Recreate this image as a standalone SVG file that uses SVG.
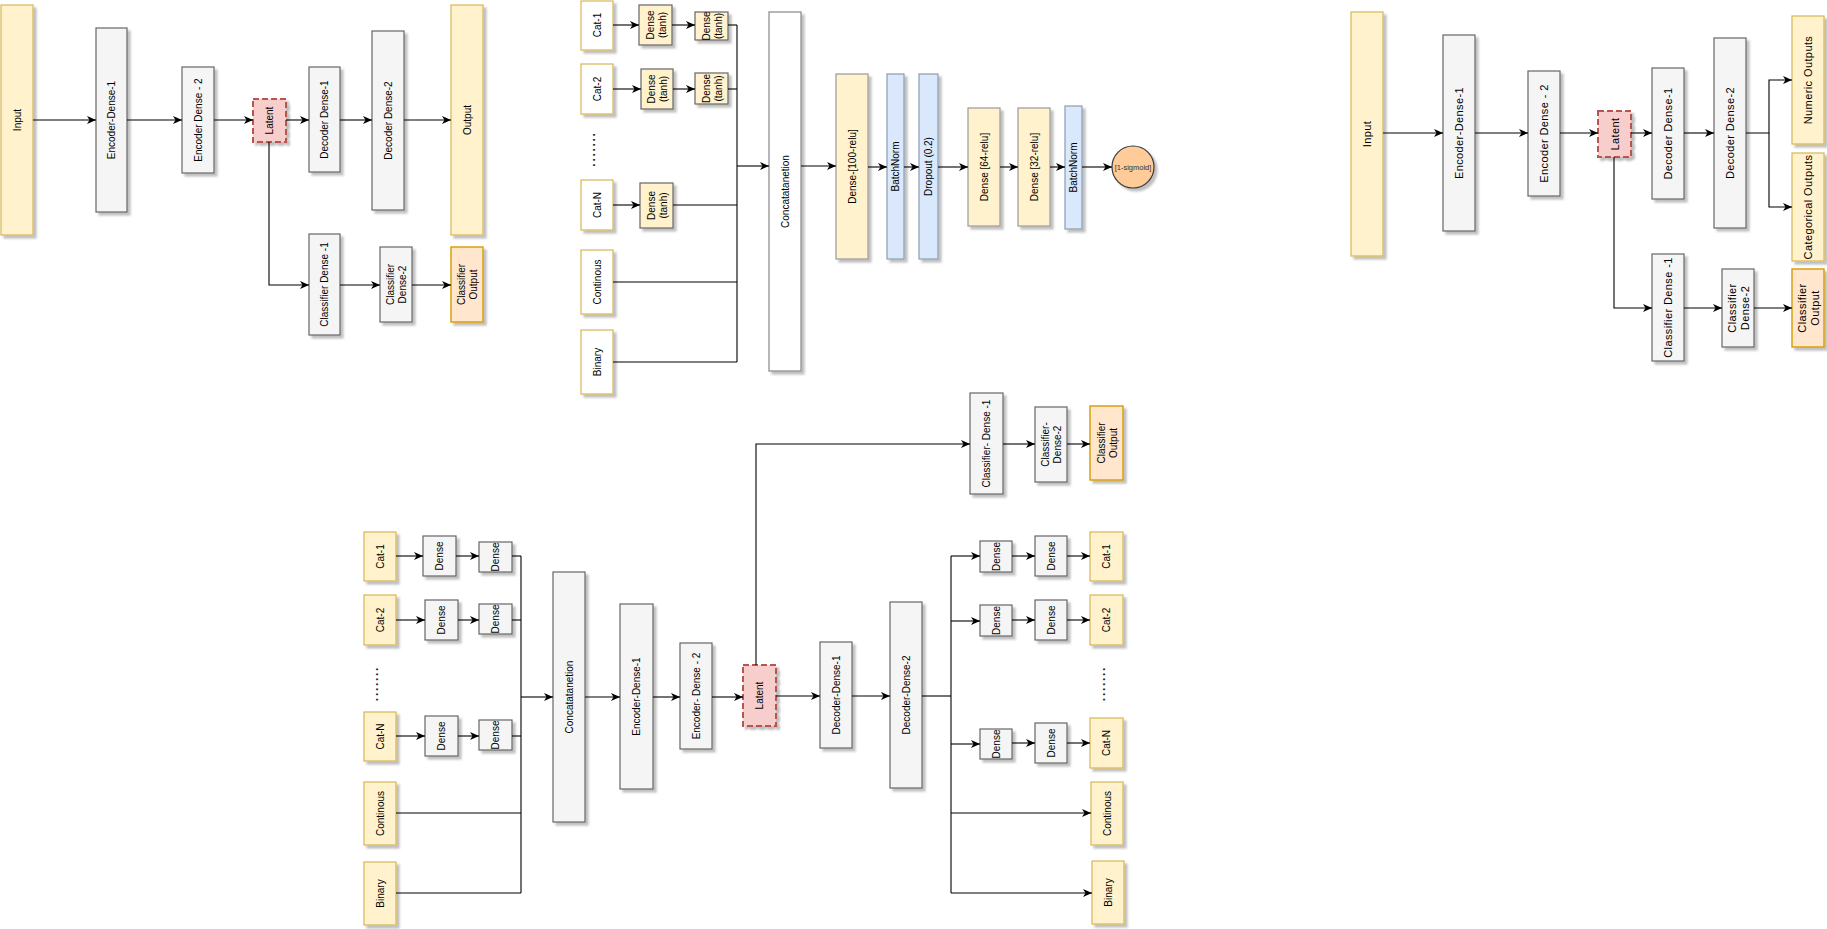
<svg xmlns="http://www.w3.org/2000/svg" width="1827" height="929" viewBox="0 0 1827 929">
<defs>
<filter id="sh" x="-20%" y="-20%" width="150%" height="150%">
<feDropShadow dx="3" dy="3" stdDeviation="1" flood-color="#000" flood-opacity="0.25"/>
</filter>
<marker id="ar" markerWidth="10" markerHeight="10" refX="9" refY="4" orient="auto" markerUnits="userSpaceOnUse">
<path d="M0,0 L9,4 L0,8 L2.5,4 z" fill="#000"/>
</marker>
</defs>
<style>
rect,circle{filter:url(#sh);}
.y{fill:#fff2cc;stroke:#d6b656;stroke-width:1.2;}
.yw{fill:#ffffff;stroke:#d6b656;stroke-width:1.2;}
.yg{fill:#fff2cc;stroke:#666666;stroke-width:1.2;}
.yl{fill:#fff2cc;stroke:#999999;stroke-width:1.2;}
.g{fill:#f5f5f5;stroke:#666666;stroke-width:1.2;}
.w{fill:#ffffff;stroke:#888888;stroke-width:1.2;}
.b{fill:#dae8fc;stroke:#8a9bb5;stroke-width:1.2;}
.lat{fill:#f8cecc;stroke:#b85450;stroke-width:2;stroke-dasharray:6 3;}
.co{fill:#ffe6cc;stroke:#d79b00;stroke-width:1.4;}
.ci{fill:#ffcc99;stroke:#36393d;stroke-width:1.2;}
text{font-family:"Liberation Sans",Arial,sans-serif;font-size:10px;fill:#000;text-anchor:middle;dominant-baseline:central;}
.r text{font-size:11px;letter-spacing:0.4px;}
text.dots{font-size:12px;letter-spacing:1.7px;font-weight:bold;fill:#222;}
.sm{font-size:7.5px;fill:#333;}
#connectors path,#connectors line{stroke:#000;stroke-width:1.1;fill:none;}
</style>

<!-- Diagram 1 -->
<g id="d1-input"><rect class="y" x="1" y="5" width="32" height="230"/><text x="17" y="120" transform="rotate(-90 17 120)">Input</text></g>
<g id="d1-enc1"><rect class="g" x="96" y="28" width="31" height="184"/><text x="111.5" y="120" transform="rotate(-90 111.5 120)">Encoder-Dense-1</text></g>
<g id="d1-enc2"><rect class="g" x="182" y="67" width="32" height="106"/><text x="198" y="120" transform="rotate(-90 198 120)">Encoder Dense - 2</text></g>
<g id="d1-latent"><rect class="lat" x="253" y="99" width="33" height="43"/><text x="269.5" y="120.5" transform="rotate(-90 269.5 120.5)">Latent</text></g>
<g id="d1-dec1"><rect class="g" x="309" y="67" width="31" height="105"/><text x="324.5" y="119.5" transform="rotate(-90 324.5 119.5)">Decoder Dense-1</text></g>
<g id="d1-dec2"><rect class="g" x="372" y="31" width="32" height="179"/><text x="388" y="120.5" transform="rotate(-90 388 120.5)">Decoder Dense-2</text></g>
<g id="d1-output"><rect class="y" x="451" y="5" width="32" height="230"/><text x="467" y="120" transform="rotate(-90 467 120)">Output</text></g>
<g id="d1-cls1"><rect class="g" x="309" y="234" width="31" height="101"/><text x="324.5" y="284.5" transform="rotate(-90 324.5 284.5)">Classifier Dense -1</text></g>
<g id="d1-cls2"><rect class="g" x="380" y="247" width="32" height="75"/><text x="396" y="284.5" transform="rotate(-90 396 284.5)"><tspan x="396" dy="-6">Classifier</tspan><tspan x="396" dy="12">Dense-2</tspan></text></g>
<g id="d1-clsout"><rect class="co" x="451" y="247" width="32" height="75"/><text x="467" y="284.5" transform="rotate(-90 467 284.5)"><tspan x="467" dy="-6">Classifier</tspan><tspan x="467" dy="12">Output</tspan></text></g>

<!-- Diagram 2 -->
<g id="d2-cat1"><rect class="yw" x="581" y="1" width="32" height="49"/><text x="597" y="25" transform="rotate(-90 597 25)">Cat-1</text></g>
<g id="d2-d1a"><rect class="yg" x="639" y="5" width="33" height="40"/><text x="655.5" y="25" transform="rotate(-90 655.5 25)"><tspan x="655.5" dy="-6">Dense</tspan><tspan x="655.5" dy="12">(tanh)</tspan></text></g>
<g id="d2-d1b"><rect class="yg" x="695" y="12" width="33" height="28"/><text x="711.5" y="26" transform="rotate(-90 711.5 26)"><tspan x="711.5" dy="-6">Dense</tspan><tspan x="711.5" dy="12">(tanh)</tspan></text></g>
<g id="d2-cat2"><rect class="yw" x="581" y="64" width="32" height="50"/><text x="597" y="89" transform="rotate(-90 597 89)">Cat-2</text></g>
<g id="d2-d2a"><rect class="yg" x="641" y="69" width="32" height="40"/><text x="657" y="89" transform="rotate(-90 657 89)"><tspan x="657" dy="-6">Dense</tspan><tspan x="657" dy="12">(tanh)</tspan></text></g>
<g id="d2-d2b"><rect class="yg" x="695" y="73" width="33" height="31"/><text x="711.5" y="88.5" transform="rotate(-90 711.5 88.5)"><tspan x="711.5" dy="-6">Dense</tspan><tspan x="711.5" dy="12">(tanh)</tspan></text></g>
<g id="d2-dots"><text class="dots" x="591" y="149" transform="rotate(-90 591 149)">.......</text></g>
<g id="d2-catn"><rect class="yw" x="581" y="180" width="32" height="50"/><text x="597" y="205" transform="rotate(-90 597 205)">Cat-N</text></g>
<g id="d2-dna"><rect class="yg" x="640" y="183" width="33" height="45"/><text x="656.5" y="205.5" transform="rotate(-90 656.5 205.5)"><tspan x="656.5" dy="-6">Dense</tspan><tspan x="656.5" dy="12">(tanh)</tspan></text></g>
<g id="d2-cont"><rect class="yw" x="581" y="250" width="32" height="64"/><text x="597" y="282" transform="rotate(-90 597 282)">Continous</text></g>
<g id="d2-bin"><rect class="yw" x="581" y="330" width="32" height="64"/><text x="597" y="362" transform="rotate(-90 597 362)">Binary</text></g>
<g id="d2-concat"><rect class="w" x="769" y="12" width="32" height="359"/><text x="785" y="191.5" transform="rotate(-90 785 191.5)">Concatatanetion</text></g>
<g id="d2-dense100"><rect class="yl" x="836" y="74" width="32" height="185"/><text x="852" y="166.5" transform="rotate(-90 852 166.5)">Dense-[100-relu]</text></g>
<g id="d2-bn1"><rect class="b" x="887" y="74" width="17" height="185"/><text x="895.5" y="166.5" transform="rotate(-90 895.5 166.5)">BatchNorm</text></g>
<g id="d2-drop"><rect class="b" x="919" y="74" width="19" height="185"/><text x="928.5" y="166.5" transform="rotate(-90 928.5 166.5)">Dropout (0.2)</text></g>
<g id="d2-dense64"><rect class="yl" x="968" y="108" width="32" height="118"/><text x="984" y="167" transform="rotate(-90 984 167)">Dense [64-relu]</text></g>
<g id="d2-dense32"><rect class="yl" x="1018" y="108" width="32" height="118"/><text x="1034" y="167" transform="rotate(-90 1034 167)">Dense [32-relu]</text></g>
<g id="d2-bn2"><rect class="b" x="1065" y="106" width="17" height="123"/><text x="1073.5" y="167.5" transform="rotate(-90 1073.5 167.5)">BatchNorm</text></g>
<g id="d2-sig"><circle class="ci" cx="1133" cy="167" r="21"/><text class="sm" x="1133" y="167">[1-sigmoid]</text></g>

<!-- Diagram 3 -->
<g class="r">
<g id="d3-input"><rect class="y" x="1351" y="12" width="32" height="244"/><text x="1367" y="134" transform="rotate(-90 1367 134)">Input</text></g>
<g id="d3-enc1"><rect class="g" x="1443" y="35" width="32" height="196"/><text x="1459" y="133" transform="rotate(-90 1459 133)">Encoder-Dense-1</text></g>
<g id="d3-enc2"><rect class="g" x="1528" y="71" width="32" height="125"/><text x="1544" y="133.5" transform="rotate(-90 1544 133.5)">Encoder Dense - 2</text></g>
<g id="d3-latent"><rect class="lat" x="1598" y="111" width="33" height="46"/><text x="1614.5" y="134" transform="rotate(-90 1614.5 134)">Latent</text></g>
<g id="d3-dec1"><rect class="g" x="1652" y="68" width="32" height="131"/><text x="1668" y="133.5" transform="rotate(-90 1668 133.5)">Decoder Dense-1</text></g>
<g id="d3-dec2"><rect class="g" x="1714" y="38" width="32" height="190"/><text x="1730" y="133" transform="rotate(-90 1730 133)">Decoder Dense-2</text></g>
<g id="d3-num"><rect class="y" x="1792" y="16" width="32" height="128"/><text x="1808" y="80" transform="rotate(-90 1808 80)">Numeric  Outputs</text></g>
<g id="d3-cat"><rect class="y" x="1792" y="153" width="32" height="108"/><text x="1808" y="207" transform="rotate(-90 1808 207)">Categorical Outputs</text></g>
<g id="d3-cls1"><rect class="g" x="1652" y="254" width="32" height="107"/><text x="1668" y="307.5" transform="rotate(-90 1668 307.5)">Classifier Dense -1</text></g>
<g id="d3-cls2"><rect class="g" x="1722" y="269" width="32" height="78"/><text x="1738" y="308" transform="rotate(-90 1738 308)"><tspan x="1738" dy="-6.5">Classifier</tspan><tspan x="1738" dy="13">Dense-2</tspan></text></g>
<g id="d3-clsout"><rect class="co" x="1792" y="269" width="32" height="78"/><text x="1808" y="308" transform="rotate(-90 1808 308)"><tspan x="1808" dy="-6.5">Classifier</tspan><tspan x="1808" dy="13">Output</tspan></text></g>
</g>

<!-- Diagram 4 -->
<g id="d4-cat1"><rect class="y" x="364" y="532" width="32" height="49"/><text x="380" y="556.5" transform="rotate(-90 380 556.5)">Cat-1</text></g>
<g id="d4-d1a"><rect class="g" x="423" y="536" width="33" height="40"/><text x="439.5" y="556" transform="rotate(-90 439.5 556)">Dense</text></g>
<g id="d4-d1b"><rect class="g" x="479" y="542" width="33" height="30"/><text x="495.5" y="557" transform="rotate(-90 495.5 557)">Dense</text></g>
<g id="d4-cat2"><rect class="y" x="364" y="595" width="32" height="50"/><text x="380" y="620" transform="rotate(-90 380 620)">Cat-2</text></g>
<g id="d4-d2a"><rect class="g" x="425" y="600" width="33" height="40"/><text x="441.5" y="620" transform="rotate(-90 441.5 620)">Dense</text></g>
<g id="d4-d2b"><rect class="g" x="479" y="604" width="33" height="30"/><text x="495.5" y="619" transform="rotate(-90 495.5 619)">Dense</text></g>
<g id="d4-dots"><text class="dots" x="374" y="683.5" transform="rotate(-90 374 683.5)">.......</text></g>
<g id="d4-catn"><rect class="y" x="364" y="712" width="32" height="49"/><text x="380" y="736.5" transform="rotate(-90 380 736.5)">Cat-N</text></g>
<g id="d4-dna"><rect class="g" x="425" y="716" width="33" height="40"/><text x="441.5" y="736" transform="rotate(-90 441.5 736)">Dense</text></g>
<g id="d4-dnb"><rect class="g" x="479" y="720" width="33" height="30"/><text x="495.5" y="735" transform="rotate(-90 495.5 735)">Dense</text></g>
<g id="d4-cont"><rect class="y" x="364" y="782" width="32" height="63"/><text x="380" y="813.5" transform="rotate(-90 380 813.5)">Continous</text></g>
<g id="d4-bin"><rect class="y" x="364" y="862" width="32" height="63"/><text x="380" y="893.5" transform="rotate(-90 380 893.5)">Binary</text></g>
<g id="d4-concat"><rect class="g" x="553" y="572" width="32" height="250"/><text x="569" y="697" transform="rotate(-90 569 697)">Concatatanetion</text></g>
<g id="d4-enc1"><rect class="g" x="620" y="604" width="33" height="185"/><text x="636.5" y="696.5" transform="rotate(-90 636.5 696.5)">Encoder-Dense-1</text></g>
<g id="d4-enc2"><rect class="g" x="680" y="643" width="32" height="106"/><text x="696" y="696" transform="rotate(-90 696 696)">Encoder- Dense - 2</text></g>
<g id="d4-latent"><rect class="lat" x="743" y="665" width="33" height="61"/><text x="759.5" y="695.5" transform="rotate(-90 759.5 695.5)">Latent</text></g>
<g id="d4-dec1"><rect class="g" x="820" y="642" width="32" height="106"/><text x="836" y="695" transform="rotate(-90 836 695)">Decoder-Dense-1</text></g>
<g id="d4-dec2"><rect class="g" x="890" y="602" width="32" height="186"/><text x="906" y="695" transform="rotate(-90 906 695)">Decoder-Dense-2</text></g>
<g id="d4-cls1"><rect class="g" x="970" y="393" width="33" height="101"/><text x="986.5" y="443.5" transform="rotate(-90 986.5 443.5)">Classifier- Dense -1</text></g>
<g id="d4-cls2"><rect class="g" x="1035" y="407" width="32" height="75"/><text x="1051" y="444.5" transform="rotate(-90 1051 444.5)"><tspan x="1051" dy="-6">Classifier-</tspan><tspan x="1051" dy="12">Dense-2</tspan></text></g>
<g id="d4-clsout"><rect class="co" x="1090" y="406" width="33" height="74"/><text x="1106.5" y="443" transform="rotate(-90 1106.5 443)"><tspan x="1106.5" dy="-6">Classifier</tspan><tspan x="1106.5" dy="12">Output</tspan></text></g>
<g id="d4-o-d1a"><rect class="g" x="980" y="541" width="32" height="31"/><text x="996" y="556.5" transform="rotate(-90 996 556.5)">Dense</text></g>
<g id="d4-o-d1b"><rect class="g" x="1035" y="536" width="32" height="40"/><text x="1051" y="556" transform="rotate(-90 1051 556)">Dense</text></g>
<g id="d4-o-cat1"><rect class="y" x="1090" y="532" width="33" height="49"/><text x="1106.5" y="556.5" transform="rotate(-90 1106.5 556.5)">Cat-1</text></g>
<g id="d4-o-d2a"><rect class="g" x="980" y="605" width="32" height="31"/><text x="996" y="620.5" transform="rotate(-90 996 620.5)">Dense</text></g>
<g id="d4-o-d2b"><rect class="g" x="1035" y="600" width="32" height="40"/><text x="1051" y="620" transform="rotate(-90 1051 620)">Dense</text></g>
<g id="d4-o-cat2"><rect class="y" x="1090" y="595" width="33" height="50"/><text x="1106.5" y="620" transform="rotate(-90 1106.5 620)">Cat-2</text></g>
<g id="d4-o-dots"><text class="dots" x="1101" y="683.5" transform="rotate(-90 1101 683.5)">.......</text></g>
<g id="d4-o-dna"><rect class="g" x="980" y="729" width="32" height="30"/><text x="996" y="744" transform="rotate(-90 996 744)">Dense</text></g>
<g id="d4-o-dnb"><rect class="g" x="1035" y="723" width="32" height="40"/><text x="1051" y="743" transform="rotate(-90 1051 743)">Dense</text></g>
<g id="d4-o-catn"><rect class="y" x="1090" y="718" width="33" height="50"/><text x="1106.5" y="743" transform="rotate(-90 1106.5 743)">Cat-N</text></g>
<g id="d4-o-cont"><rect class="y" x="1091" y="782" width="32" height="63"/><text x="1107" y="813.5" transform="rotate(-90 1107 813.5)">Continous</text></g>
<g id="d4-o-bin"><rect class="y" x="1092" y="861" width="32" height="63"/><text x="1108" y="892.5" transform="rotate(-90 1108 892.5)">Binary</text></g>

<g id="connectors">
<!-- d1 -->
<path d="M33,120 H96" marker-end="url(#ar)"/>
<path d="M127,120 H182" marker-end="url(#ar)"/>
<path d="M214,120 H253" marker-end="url(#ar)"/>
<path d="M286,120 H309" marker-end="url(#ar)"/>
<path d="M340,120 H372" marker-end="url(#ar)"/>
<path d="M404,120 H451" marker-end="url(#ar)"/>
<path d="M269,142 V285 H309" marker-end="url(#ar)"/>
<path d="M340,285 H380" marker-end="url(#ar)"/>
<path d="M412,285 H451" marker-end="url(#ar)"/>
<!-- d2 -->
<path d="M613,25 H639" marker-end="url(#ar)"/>
<path d="M672,25 H695" marker-end="url(#ar)"/>
<path d="M728,25 H737"/>
<path d="M613,89 H641" marker-end="url(#ar)"/>
<path d="M673,89 H695" marker-end="url(#ar)"/>
<path d="M728,89 H737"/>
<path d="M613,205 H640" marker-end="url(#ar)"/>
<path d="M673,205 H737"/>
<path d="M613,282 H737"/>
<path d="M613,362 H737"/>
<path d="M737,25 V362"/>
<path d="M737,166 H769" marker-end="url(#ar)"/>
<path d="M801,166 H836" marker-end="url(#ar)"/>
<path d="M868,167 H887" marker-end="url(#ar)"/>
<path d="M904,167 H919" marker-end="url(#ar)"/>
<path d="M938,167 H968" marker-end="url(#ar)"/>
<path d="M1000,167 H1018" marker-end="url(#ar)"/>
<path d="M1050,167 H1065" marker-end="url(#ar)"/>
<path d="M1082,167 H1112" marker-end="url(#ar)"/>
<!-- d3 -->
<path d="M1383,133 H1443" marker-end="url(#ar)"/>
<path d="M1475,133 H1528" marker-end="url(#ar)"/>
<path d="M1560,133 H1598" marker-end="url(#ar)"/>
<path d="M1631,133 H1652" marker-end="url(#ar)"/>
<path d="M1684,133 H1714" marker-end="url(#ar)"/>
<path d="M1746,133 H1769 V80 H1792" marker-end="url(#ar)"/>
<path d="M1769,133 V207 H1792" marker-end="url(#ar)"/>
<path d="M1614,157 V308 H1652" marker-end="url(#ar)"/>
<path d="M1684,308 H1722" marker-end="url(#ar)"/>
<path d="M1754,308 H1792" marker-end="url(#ar)"/>
<!-- d4 -->
<path d="M396,556 H423" marker-end="url(#ar)"/>
<path d="M456,556 H479" marker-end="url(#ar)"/>
<path d="M512,556 H521"/>
<path d="M396,620 H425" marker-end="url(#ar)"/>
<path d="M458,620 H479" marker-end="url(#ar)"/>
<path d="M512,620 H521"/>
<path d="M396,736 H425" marker-end="url(#ar)"/>
<path d="M458,736 H479" marker-end="url(#ar)"/>
<path d="M512,736 H521"/>
<path d="M396,813 H521"/>
<path d="M396,893 H521"/>
<path d="M521,556 V893"/>
<path d="M521,697 H553" marker-end="url(#ar)"/>
<path d="M585,697 H620" marker-end="url(#ar)"/>
<path d="M653,697 H680" marker-end="url(#ar)"/>
<path d="M712,697 H743" marker-end="url(#ar)"/>
<path d="M776,696 H820" marker-end="url(#ar)"/>
<path d="M852,696 H890" marker-end="url(#ar)"/>
<path d="M922,696 H951"/>
<path d="M951,556 V893"/>
<path d="M951,556 H980" marker-end="url(#ar)"/>
<path d="M951,621 H980" marker-end="url(#ar)"/>
<path d="M951,744 H980" marker-end="url(#ar)"/>
<path d="M951,813 H1091" marker-end="url(#ar)"/>
<path d="M951,893 H1092" marker-end="url(#ar)"/>
<path d="M1012,556 H1035" marker-end="url(#ar)"/>
<path d="M1067,556 H1090" marker-end="url(#ar)"/>
<path d="M1012,620 H1035" marker-end="url(#ar)"/>
<path d="M1067,620 H1090" marker-end="url(#ar)"/>
<path d="M1012,743 H1035" marker-end="url(#ar)"/>
<path d="M1067,743 H1090" marker-end="url(#ar)"/>
<path d="M756,665 V444 H970" marker-end="url(#ar)"/>
<path d="M1003,444 H1035" marker-end="url(#ar)"/>
<path d="M1067,444 H1090" marker-end="url(#ar)"/>
</g>
</svg>
